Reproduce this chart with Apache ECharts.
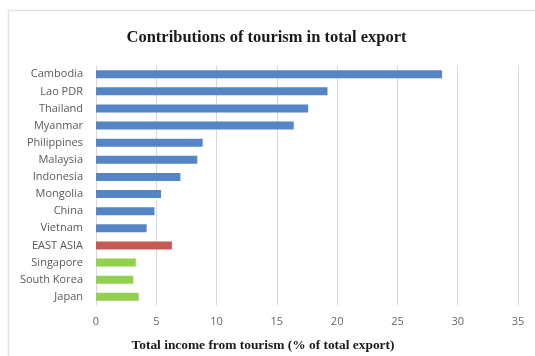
<!DOCTYPE html>
<html>
<head>
<meta charset="utf-8">
<script src="https://cdn.jsdelivr.net/npm/echarts@6/dist/echarts.min.js"></script>
<style>
  html, body { margin: 0; padding: 0; background: #fff; }
  #chart { width: 535px; height: 356px; }
</style>
</head>
<body>
<div id="chart"></div>
<script>
// Tourism receipts as a share of total exports, by economy
const countries = ['Cambodia', 'Lao PDR', 'Thailand', 'Myanmar', 'Philippines', 'Malaysia',
  'Indonesia', 'Mongolia', 'China', 'Vietnam', 'EAST ASIA', 'Singapore', 'South Korea', 'Japan'];
const tourismShare = [28.7, 19.2, 17.6, 16.4, 8.85, 8.4, 7.0, 5.4, 4.85, 4.2, 6.3, 3.3, 3.1, 3.55];
const regionAverage = ['EAST ASIA'];
const highIncome = ['Singapore', 'South Korea', 'Japan'];
const xTicks = [0, 5, 10, 15, 20, 25, 30, 35];

const colorFor = (name) => {
  if (regionAverage.includes(name)) return '#c55a55';
  if (highIncome.includes(name)) return '#92d050';
  return '#5585c4';
};

const chart = echarts.init(document.getElementById('chart'), null, { renderer: 'canvas' });
chart.setOption({
  animation: false,
  backgroundColor: '#fff',
  graphic: [{
    type: 'rect',
    shape: { x: 8.5, y: 10.5, width: 560, height: 400 },
    style: { fill: 'none', stroke: '#e3e3e3', lineWidth: 1.5 },
    silent: true
  }, {
    type: 'text',
    x: 266.5,
    y: 37.5,
    style: {
      text: 'Contributions of tourism in total export',
      align: 'center',
      verticalAlign: 'middle',
      font: 'bold 16.5px "Liberation Serif"',
      fill: '#1a1a1a'
    }
  }, {
    type: 'text',
    x: 263,
    y: 345.5,
    style: {
      text: 'Total income from tourism (% of total export)',
      align: 'center',
      verticalAlign: 'middle',
      font: 'bold 13.4px "Liberation Serif"',
      fill: '#1a1a1a'
    }
  }],
  grid: { left: 96, right: 17, top: 65.7, bottom: 50.7, containLabel: false },
  xAxis: {
    type: 'value',
    min: xTicks[0],
    max: xTicks[xTicks.length - 1],
    interval: 5,
    axisLine: { show: false },
    axisTick: { show: false },
    axisLabel: { color: '#666666', fontFamily: 'Open Sans', fontSize: 11, margin: 11 },
    splitLine: { show: true, lineStyle: { color: '#d9d9d9', width: 1 } }
  },
  yAxis: {
    type: 'category',
    data: countries,
    inverse: true,
    axisLine: { show: false },
    axisTick: { show: false },
    axisLabel: { color: '#595959', fontFamily: 'Open Sans', fontSize: 11, margin: 13 },
    splitLine: { show: false }
  },
  series: [{
    type: 'bar',
    barWidth: 8,
    data: tourismShare.map((v, i) => ({ value: v, itemStyle: { color: colorFor(countries[i]) } }))
  }]
});
</script>
</body>
</html>
